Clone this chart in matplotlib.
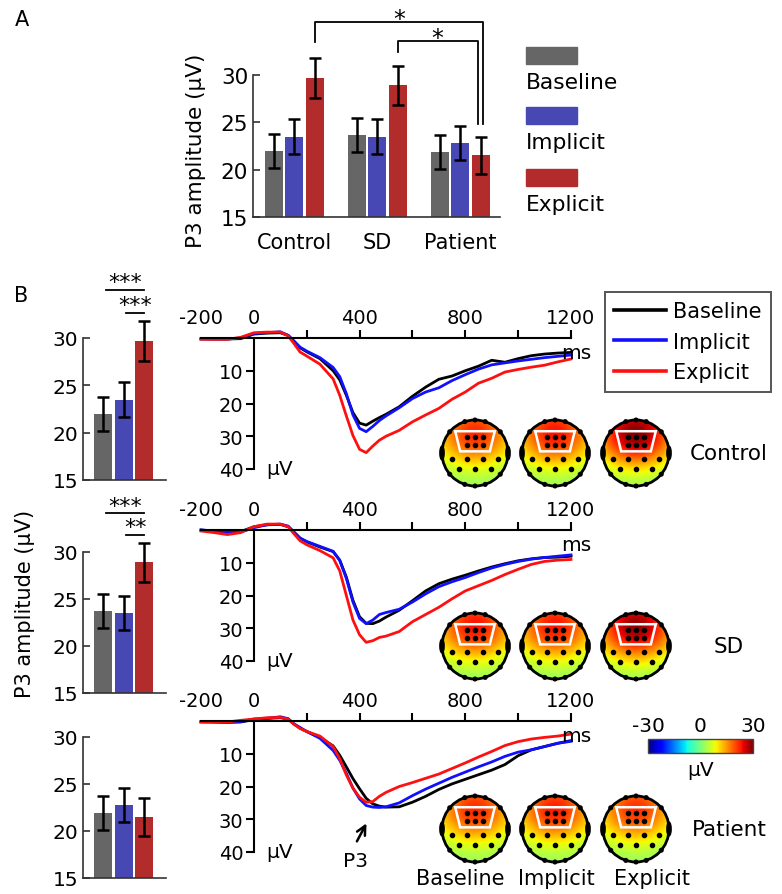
import numpy as np
import matplotlib
matplotlib.use("Agg")
import matplotlib.pyplot as plt
from matplotlib.patches import Circle, Polygon, Rectangle, Ellipse
from matplotlib.lines import Line2D
from matplotlib.cm import ScalarMappable
from matplotlib.colors import Normalize

plt.rcParams['font.family'] = ['DejaVu Sans']
plt.rcParams['axes.unicode_minus'] = False

# ---- data --------------------------------------------------------------
groups = ["Control", "SD", "Patient"]
conditions = ["Baseline", "Implicit", "Explicit"]

baseline_mean = [22.0, 23.7, 21.9]
implicit_mean = [23.5, 23.5, 22.8]
explicit_mean = [29.7, 28.9, 21.5]
baseline_err = [1.8, 1.8, 1.8]
implicit_err = [1.85, 1.8, 1.8]
explicit_err = [2.1, 2.05, 2.0]

times = [-200, -150, -100, -50, 0, 50, 100, 130, 150, 175, 200, 250, 300, 325,
         350, 375, 400, 425, 450, 475, 500, 550, 600, 650, 700, 750, 800, 850,
         900, 950, 1000, 1050, 1100, 1150, 1200]

control_baseline = [0.2, 0.3, 0.3, 0.2, -1.2, -1.5, -1.6, -0.8, 0.8, 3.0, 4.2, 6.3, 10.0, 12.8,
                    17.5, 22.8, 26.0, 26.6, 25.4, 24.3, 23.3, 21.0, 17.8, 15.0, 12.6, 11.6, 10.0, 8.6,
                    6.8, 7.4, 6.3, 5.4, 4.9, 4.6, 4.4]
control_implicit = [0.3, 0.3, 0.3, 0.0, -1.4, -1.6, -1.9, -0.8, 0.8, 2.8, 4.0, 6.0, 9.0, 11.8,
                    17.0, 23.5, 27.6, 28.6, 27.0, 25.2, 23.8, 21.3, 18.5, 16.5, 15.2, 13.0, 11.2, 9.5,
                    8.2, 7.6, 7.0, 6.5, 6.0, 5.6, 5.2]
control_explicit = [0.4, 0.4, 0.4, -0.2, -1.6, -1.8, -1.8, -0.6, 1.5, 4.3, 5.5, 8.0, 12.5, 17.5,
                    23.8, 29.8, 34.0, 35.0, 33.0, 31.2, 30.0, 28.2, 25.6, 23.5, 21.5, 18.7, 16.5, 13.8,
                    12.3, 10.4, 9.6, 8.9, 8.3, 7.3, 6.4]

sd_baseline = [0.0, 0.3, 0.8, 0.5, -1.0, -1.6, -1.7, -1.0, 0.5, 2.5, 3.6, 5.2, 6.6, 9.2,
               14.4, 21.5, 26.5, 28.5, 28.6, 27.8, 26.6, 24.5, 21.6, 18.6, 16.4, 15.0, 13.8, 12.5,
               11.3, 10.3, 9.4, 8.8, 8.4, 8.3, 8.0]
sd_implicit = [0.0, 0.3, 0.8, 0.6, -0.7, -1.6, -1.8, -1.2, 0.5, 2.5, 3.5, 5.0, 6.5, 9.3,
               14.8, 22.0, 27.0, 28.6, 27.5, 25.8, 25.2, 24.2, 22.0, 19.5, 17.3, 15.8, 14.5, 13.0,
               11.6, 10.5, 9.6, 8.9, 8.4, 8.0, 7.6]
sd_explicit = [0.3, 0.8, 1.4, 0.8, -1.0, -1.8, -1.8, -1.0, 1.0, 3.3, 4.5, 6.3, 8.5, 12.5,
               20.0, 27.5, 32.0, 34.3, 33.8, 32.8, 32.4, 31.0, 28.0, 25.8, 23.6, 21.0, 18.6, 17.0,
               15.4, 13.6, 12.0, 10.5, 9.6, 9.2, 9.0]

patient_baseline = [0.2, 0.3, 0.4, 0.3, -0.4, -0.8, -1.0, -0.6, 0.8, 2.2, 3.2, 5.0, 7.6, 10.5,
                    14.0, 17.6, 20.7, 23.6, 25.3, 26.0, 26.3, 26.2, 24.8, 23.0, 20.9, 19.2, 17.8, 16.4,
                    15.0, 13.3, 10.6, 8.8, 7.8, 6.8, 6.0]
patient_implicit = [0.3, 0.3, 0.4, 0.2, -0.6, -0.8, -1.3, -0.7, 0.8, 2.0, 3.2, 5.3, 9.0, 12.0,
                    16.0, 20.5, 23.8, 25.8, 26.3, 26.4, 26.2, 25.0, 22.8, 20.8, 19.0, 17.2, 15.6, 14.0,
                    12.5, 10.8, 9.5, 8.8, 7.8, 6.8, 6.2]
patient_explicit = [0.3, 0.3, 0.3, -0.2, -0.6, -1.0, -1.1, -0.6, 0.9, 2.3, 3.2, 4.6, 7.8, 11.5,
                    16.5, 20.5, 23.3, 24.8, 24.6, 23.0, 21.8, 20.0, 18.8, 17.5, 16.2, 14.5, 12.8, 11.0,
                    9.3, 7.5, 6.3, 5.5, 5.0, 4.6, 4.0]

erp_curves = [
    [control_baseline, control_implicit, control_explicit],
    [sd_baseline, sd_implicit, sd_explicit],
    [patient_baseline, patient_implicit, patient_explicit],
]
# ------------------------------------------------------------------------

bar_colors = ["#666666", "#4848b4", "#b22c2c"]
line_colors = ["#000000", "#1010ff", "#ff1010"]
means = [baseline_mean, implicit_mean, explicit_mean]
errs = [baseline_err, implicit_err, explicit_err]
offsets = [-0.247, 0.0, 0.247]
BAR_W = 0.217
AX_COLOR = "#333333"

W, H = 782, 895
fig = plt.figure(figsize=(W / 100, H / 100), dpi=100)


def px_axes(left, top, right, bottom, **kw):
    return fig.add_axes([left / W, 1 - bottom / H, (right - left) / W, (bottom - top) / H], **kw)


# overlay in pixel coordinates for free-standing labels
ov = px_axes(0, 0, W, H)
ov.set_xlim(0, W)
ov.set_ylim(H, 0)
ov.axis("off")
ov.set_zorder(-1)


def style_bar_axes(ax, labelsize):
    for s in ["top", "right"]:
        ax.spines[s].set_visible(False)
    for s in ["left", "bottom"]:
        ax.spines[s].set_color(AX_COLOR)
        ax.spines[s].set_linewidth(1.2)
    ax.set_ylim(15, 30)
    ax.set_yticks([15, 20, 25, 30])
    ax.tick_params(axis="y", direction="in", length=5, width=1.2, color=AX_COLOR,
                   labelsize=labelsize, pad=3.5)


# ---- Panel A ------------------------------------------------------------
axA = px_axes(253, 76, 500, 218)
xg = np.arange(1, len(groups) + 1)
for k in range(3):
    axA.bar(xg + offsets[k], means[k], BAR_W, color=bar_colors[k], zorder=2)
    axA.errorbar(xg + offsets[k], means[k], yerr=errs[k], fmt="none", ecolor="black",
                 elinewidth=1.8, capsize=4.5, capthick=1.8, clip_on=False, zorder=3)
style_bar_axes(axA, 15.5)
axA.set_xlim(0.506, 3.48)
axA.set_xticks(xg)
axA.set_xticklabels(groups)
axA.tick_params(axis="x", length=0, labelsize=15, pad=11)
axA.set_ylabel("P3 amplitude (μV)", fontsize=15.5)
axA.yaxis.set_label_coords(-0.19, 0.47)

# significance brackets between groups (explicit condition)
for x0, x1, ytop, yl, yr in [(1.247, 3.28, 35.56, 33.5, 24.8), (2.247, 3.21, 33.55, 32.4, 24.8)]:
    axA.plot([x0, x0, x1, x1], [yl, ytop, ytop, yr], color="black", lw=1.3, clip_on=False)
    axA.text((x0 + x1) / 2, ytop - 0.35, "*", ha="center", va="baseline", fontsize=17)

# legend A (patch above label)
for k, (name, y0) in enumerate(zip(conditions, [48, 108, 170])):
    ov.add_patch(Rectangle((526, y0), 51, 17, color=bar_colors[k]))
    ov.text(526, y0 + 41, name, ha="left", va="baseline", fontsize=15.7)

ov.text(22, 20, "A", ha="center", va="center", fontsize=15)
ov.text(21, 296, "B", ha="center", va="center", fontsize=15)

# ---- Panel B: bars ------------------------------------------------------
bar_axes_px = [(339, 481), (553, 694), (738, 879)]
bar_sig = [
    [(0, 2, "***", 35.1), (1, 2, "***", 32.6)],
    [(0, 2, "***", 34.1), (1, 2, "**", 31.8)],
    [],
]
xb = np.array(offsets)
for g, (top, bottom) in enumerate(bar_axes_px):
    ax = px_axes(83, top, 166, bottom)
    for k in range(3):
        ax.bar(xb[k], means[k][g], BAR_W, color=bar_colors[k], zorder=2)
        ax.errorbar(xb[k], means[k][g], yerr=errs[k][g], fmt="none", ecolor="black",
                    elinewidth=1.8, capsize=4.5, capthick=1.8, clip_on=False, zorder=3)
    style_bar_axes(ax, 14.5)
    ax.set_xlim(-0.488, 0.51)
    ax.set_xticks([])
    for i, j, lab, yl in bar_sig[g]:
        xa = xb[i] + 0.035
        ax.plot([xa, xb[j]], [yl, yl], color="black", lw=1.3, clip_on=False)
        ax.text((xa + xb[j]) / 2, yl + 0.2, lab, ha="center", va="baseline", fontsize=16)

ov.text(25, 604, "P3 amplitude (μV)", rotation=90, ha="center", va="center", fontsize=15)

# ---- Panel B: ERP waveforms ----------------------------------------------
erp_tops = [339, 531, 722]
erp_axes = []
for g, top in enumerate(erp_tops):
    ax = px_axes(201, top, 571, top + 131)
    for k in range(3):
        ax.plot(times, erp_curves[g][k], color=line_colors[k], lw=2.0, label=conditions[k],
                clip_on=False, solid_joinstyle="round")
    ax.set_xlim(-200, 1200)
    ax.set_ylim(40, 0)
    ax.patch.set_alpha(0)
    for s in ["bottom", "right"]:
        ax.spines[s].set_visible(False)
    ax.spines["left"].set_position(("data", 0))
    ax.spines["left"].set_bounds(0, 40)
    for s in ["left", "top"]:
        ax.spines[s].set_linewidth(1.5)
        ax.spines[s].set_color("black")
    ax.xaxis.set_ticks_position("top")
    ax.set_xticks([-200, 0, 400, 800, 1200])
    ax.set_xticks([200, 600, 1000], minor=True)
    ax.set_yticks([10, 20, 30, 40])
    ax.tick_params(axis="x", which="both", direction="out", length=6, width=1.5, labelsize=14, pad=2)
    ax.tick_params(axis="y", direction="out", length=6, width=1.5, labelsize=14, pad=1.5)
    for t in ax.xaxis.get_major_ticks()[:2]:
        t.tick2line.set_visible(False)
    ax.text(1218, 4.3, "ms", ha="center", va="center", fontsize=14.5)
    ax.text(45, 40, "μV", ha="left", va="center", fontsize=14.5)
    erp_axes.append(ax)

axP = erp_axes[2]
axP.annotate("", xy=(431, 30.5), xytext=(385, 37.5),
             arrowprops=dict(arrowstyle="->", lw=1.8, color="black", mutation_scale=16))
axP.text(385, 42.5, "P3", ha="center", va="center", fontsize=14.5)

handles = [Line2D([], [], color=c, lw=2.6) for c in line_colors]
leg = erp_axes[0].legend(handles, conditions, loc="upper left",
                         bbox_to_anchor=(605 / W, 1 - 293 / H), bbox_transform=fig.transFigure,
                         borderaxespad=0, fontsize=15, handlelength=2.5, handletextpad=0.3,
                         labelspacing=0.5, borderpad=0.45, fancybox=False, framealpha=1)
leg.get_frame().set_edgecolor("#555555")
leg.get_frame().set_linewidth(1.4)

# ---- topographic maps ----------------------------------------------------
head_x = [475, 555, 636]
head_y = [454, 647, 830]
R = 33
dots = np.array([(-0.24, 0.48), (0, 0.48), (0.24, 0.48), (-0.24, 0.24), (0, 0.24), (0.24, 0.24),
                 (-0.71, -0.19), (-0.24, -0.19), (0.24, -0.19), (0.71, -0.19),
                 (-0.48, -0.48), (0, -0.48), (0.48, -0.48)])
gx, gy = np.meshgrid(np.linspace(-1, 1, 200), np.linspace(-1, 1, 200))


def draw_head(ax, peak):
    field = peak * np.exp(-(gx ** 2 / (2 * 0.9 ** 2) + (gy - 0.6) ** 2 / (2 * 0.75 ** 2)))
    im = ax.imshow(field, extent=(-1, 1, -1, 1), origin="lower", cmap="jet", vmin=-30, vmax=30,
                   interpolation="bilinear")
    clip = Circle((0, 0), 1, transform=ax.transData)
    im.set_clip_path(clip)
    for ang in np.deg2rad([72, 90, 108, 252, 270, 288, 40, 140, 220, 320]):
        ax.add_patch(Circle((1.0 * np.cos(ang), 1.0 * np.sin(ang)), 0.055, color="black"))
    for sx in [-1, 1]:
        ax.add_patch(Ellipse((sx * 1.0, 0.0), 0.13, 0.42, color="black"))
    ax.add_patch(Circle((0, 0), 1, facecolor="none", edgecolor="black", lw=2.0))
    ax.add_patch(Polygon([(-0.6, 0.66), (0.6, 0.66), (0.45, 0.05), (-0.45, 0.05)], closed=True,
                         facecolor="none", edgecolor="white", lw=1.8))
    ax.scatter(dots[:, 0], dots[:, 1], s=9, color="black", zorder=5)
    lim = 40 / R
    ax.set_xlim(-lim, lim)
    ax.set_ylim(-lim, lim)
    ax.axis("off")


for g in range(3):
    for k in range(3):
        cx, cy = head_x[k], head_y[g]
        hax = px_axes(cx - 40, cy - 40, cx + 40, cy + 40)
        draw_head(hax, means[k][g])
    ov.text(729, head_y[g], groups[g], ha="center", va="center", fontsize=15.5)

for k, cx in enumerate([460, 556, 652]):
    ov.text(cx, 879, conditions[k], ha="center", va="center", fontsize=15)

cax = px_axes(648, 740, 753, 754)
cb = fig.colorbar(ScalarMappable(norm=Normalize(-30, 30), cmap="jet"), cax=cax,
                  orientation="horizontal", ticks=[-30, 0, 30])
cb.outline.set_linewidth(1.0)
cb.outline.set_edgecolor("#444444")
cax.xaxis.set_ticks_position("top")
cax.tick_params(length=0, labelsize=14.5, pad=3)
ov.text(701, 771, "μV", ha="center", va="center", fontsize=14.5)

fig.savefig("out.png", dpi=100)
